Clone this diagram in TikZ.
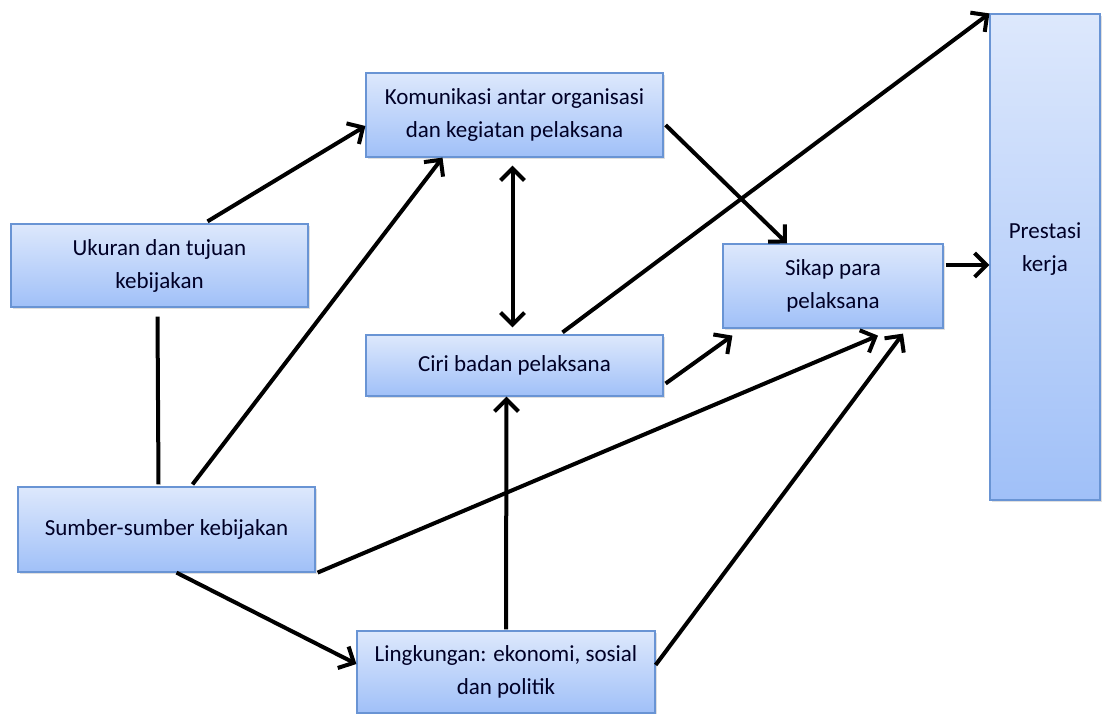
\documentclass[tikz,border=0pt]{standalone}
\usepackage{fontspec}
\setmainfont{Carlito}
\usepackage{tikz}
\usetikzlibrary{arrows.meta,shadows}

\definecolor{boxtop}{RGB}{221,232,252}
\definecolor{boxbottom}{RGB}{160,192,248}
\definecolor{boxline}{RGB}{105,148,212}

\begin{document}
\begin{tikzpicture}[x=0.5pt, y=-0.5pt,
    box/.style={draw=boxline, line width=0.6pt, top color=boxtop, bottom color=boxbottom,
        drop shadow={shadow xshift=1pt, shadow yshift=-1pt, opacity=0.25},
        align=center, inner sep=0, font=\fontsize{11.5}{16.5}\selectfont, text=black!85!blue},
    link/.style={line width=2pt, -{Straight Barb[length=6pt, width=12pt]}},
    both/.style={line width=2pt, {Straight Barb[length=6pt, width=12pt]}-{Straight Barb[length=6pt, width=12pt]}}]
\useasboundingbox (0, 0) rectangle (1103, 713);

\node[box, minimum width=148.5pt, minimum height=41.5pt] (ukuran) at (159.5, 265.5) {Ukuran dan tujuan\\kebijakan};
\node[box, minimum width=148.5pt, minimum height=42pt] (komunikasi) at (514.5, 115) {Komunikasi antar organisasi\\dan kegiatan pelaksana};
\node[box, minimum width=148.5pt, minimum height=30.5pt] (ciri) at (514.5, 365.5) {Ciri badan pelaksana};
\node[box, minimum width=110pt, minimum height=42pt] (sikap) at (833, 286) {Sikap para\\pelaksana};
\node[box, minimum width=148.5pt, minimum height=42.5pt] (sumber) at (166.5, 529.5) {Sumber-sumber kebijakan};
\node[box, minimum width=149pt, minimum height=41pt] (lingkungan) at (506, 672) {Lingkungan: ekonomi, sosial\\dan politik};
\node[box, minimum width=55pt, minimum height=243pt, text depth=10pt] (prestasi) at (1045, 257) {Prestasi\\kerja};

\draw[link] ([xshift=24pt, yshift=1pt]ukuran.north) -- ([yshift=-5.5pt]komunikasi.west);
\draw[link] ([xshift=13pt, yshift=1pt]sumber.north) -- ([xshift=-36pt]komunikasi.south);
\draw[line width=2pt] ([xshift=-1pt, yshift=-4.5pt]ukuran.south) -- ([xshift=-4pt, yshift=1pt]sumber.north);
\draw[both] ([xshift=-1pt, yshift=-4pt]komunikasi.south) -- ([xshift=-1pt, yshift=3.5pt]ciri.north);
\draw[link] ([xshift=1pt, yshift=-5pt]komunikasi.east) -- ([xshift=-23pt]sikap.north);
\draw[link] ([xshift=24pt, yshift=1pt]ciri.north) -- (prestasi.north west);
\draw[link] ([xshift=1pt, yshift=-9pt]ciri.east) -- ([xshift=5pt, yshift=-3.5pt]sikap.south west);
\draw[link] ([xshift=1pt]sumber.south east) -- ([xshift=22.5pt, yshift=-3.5pt]sikap.south);
\draw[link] ([xshift=5pt]sumber.south) -- ([yshift=4pt]lingkungan.west);
\draw[link] ([yshift=0.5pt]lingkungan.north) -- ([xshift=-4pt]ciri.south);
\draw[link] ([yshift=3.5pt]lingkungan.east) -- ([xshift=35pt, yshift=-2.5pt]sikap.south);
\draw[link] ([xshift=1pt, yshift=10.5pt]sikap.east) -- ([yshift=-4pt]prestasi.west);

\end{tikzpicture}
\end{document}
